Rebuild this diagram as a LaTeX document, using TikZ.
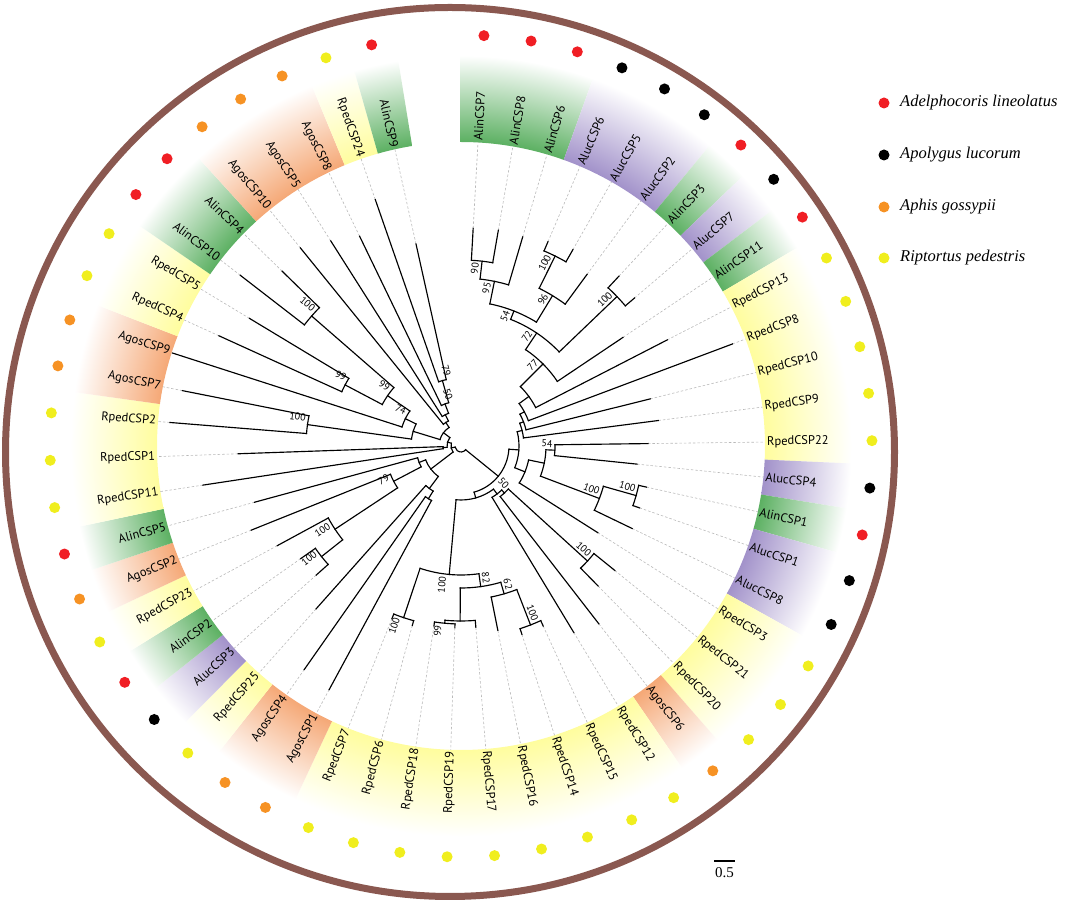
\documentclass[tikz,border=0pt]{standalone}
\usepackage{fontspec}
\setmainfont{Liberation Serif}
\newfontfamily\labfont{PT Sans}
\definecolor{cGreen}{RGB}{92,176,98}
\definecolor{cPurple}{RGB}{162,146,202}
\definecolor{cOrange}{RGB}{245,168,118}
\definecolor{cYellow}{RGB}{255,253,158}
\definecolor{dRed}{RGB}{240,30,36}
\definecolor{dBlack}{RGB}{0,0,0}
\definecolor{dOrange}{RGB}{246,146,36}
\definecolor{dYellow}{RGB}{240,238,30}
\definecolor{ringBrown}{RGB}{138,88,80}
\pgfdeclareradialshading{shGreen}{\pgfpointorigin}{color(0bp)=(cGreen); color(19bp)=(cGreen); color(24.4bp)=(white); color(50bp)=(white)}
\pgfdeclareradialshading{shPurple}{\pgfpointorigin}{color(0bp)=(cPurple); color(19bp)=(cPurple); color(24.4bp)=(white); color(50bp)=(white)}
\pgfdeclareradialshading{shOrange}{\pgfpointorigin}{color(0bp)=(cOrange); color(19bp)=(cOrange); color(24.4bp)=(white); color(50bp)=(white)}
\pgfdeclareradialshading{shYellow}{\pgfpointorigin}{color(0bp)=(cYellow); color(19bp)=(cYellow); color(24.4bp)=(white); color(50bp)=(white)}
\tikzset{
  br/.style={line width=1.15pt, black, line cap=rect},
  dotln/.style={gray!55, line width=0.6pt, dash pattern=on 2.5pt off 2pt},
  leaflab/.style={font=\labfont\fontsize{12.5}{14}\selectfont, inner sep=0pt},
  bslab/.style={font=\labfont\fontsize{10}{11}\selectfont, inner sep=2.5pt, anchor=south east},
  dotn/.style={circle, minimum size=11pt, inner sep=0pt},
  legtext/.style={font=\fontsize{16.5}{19}\selectfont\itshape, anchor=west, inner sep=0pt},
}
\newcommand\tnode[6]{%
  \coordinate (#1) at (#2:#3);
  \coordinate (#1b) at (#2:#4);
  \draw[br] (#1b) -- (#1);
  \draw[br] (#5:#3) arc[start angle=#5, end angle=#6, radius=#3];}
\newcommand\bsR[3]{\node[bslab, rotate=#2] at (#1) {#3};}
\newcommand\bsL[3]{\node[bslab, rotate=#2+180] at (#1) {#3};}
\newcommand\drawband[3]{%
  \pgfmathsetmacro\bandA{86.8-6.62*#1+3.31}
  \pgfmathsetmacro\bandB{86.8-6.62*#2-3.31}
  \begin{scope}
    \clip (\bandA:304) arc[start angle=\bandA, end angle=\bandB, radius=304] -- (\bandB:402) arc[start angle=\bandB, end angle=\bandA, radius=402] -- cycle;
    \shade[shading=#3] (0,0) circle (400);
  \end{scope}}
\begin{document}
\begin{tikzpicture}[x=1pt,y=1pt]
\useasboundingbox (0,0) rectangle (1065,904);
\draw[ringBrown, line width=7pt] (450,452) circle (444.5);
\begin{scope}[shift={(461,458)}]
% colour bands
\drawband{0}{2}{shGreen}
\drawband{3}{5}{shPurple}
\drawband{6}{6}{shGreen}
\drawband{7}{7}{shPurple}
\drawband{8}{8}{shGreen}
\drawband{9}{13}{shYellow}
\drawband{14}{14}{shPurple}
\drawband{15}{15}{shGreen}
\drawband{16}{17}{shPurple}
\drawband{18}{20}{shYellow}
\drawband{21}{21}{shOrange}
\drawband{22}{30}{shYellow}
\drawband{31}{32}{shOrange}
\drawband{33}{33}{shYellow}
\drawband{34}{34}{shPurple}
\drawband{35}{35}{shGreen}
\drawband{36}{36}{shYellow}
\drawband{37}{37}{shOrange}
\drawband{38}{38}{shGreen}
\drawband{39}{41}{shYellow}
\drawband{42}{43}{shOrange}
\drawband{44}{45}{shYellow}
\drawband{46}{47}{shGreen}
\drawband{48}{50}{shOrange}
\drawband{51}{51}{shYellow}
\drawband{52}{52}{shGreen}
% leaves
\foreach \i/\nm/\dc/\tip/\pr in {0/AlinCSP7/dRed/218/186, 1/AlinCSP8/dRed/219/186, 2/AlinCSP6/dRed/218/168, 3/AlucCSP6/dBlack/222/212, 4/AlucCSP5/dBlack/226/212, 5/AlucCSP2/dBlack/213/176, 6/AlinCSP3/dRed/232/216, 7/AlucCSP7/dBlack/228/216, 8/AlinCSP11/dRed/195/116, 9/RpedCSP13/dYellow/232/84, 10/RpedCSP8/dYellow/290/72, 11/RpedCSP10/dYellow/195/67, 12/RpedCSP9/dYellow/199/63, 13/RpedCSP22/dYellow/187/94, 14/AlucCSP4/dBlack/177/94, 15/AlinCSP1/dRed/190/182, 16/AlucCSP1/dBlack/189/182, 17/AlucCSP8/dBlack/190/148, 18/RpedCSP3/dYellow/162/69, 19/RpedCSP21/dYellow/198/171, 20/RpedCSP20/dYellow/196/171, 21/AgosCSP6/dOrange/225/64, 22/RpedCSP12/dYellow/218/60, 23/RpedCSP15/dYellow/198/192, 24/RpedCSP14/dYellow/198/192, 25/RpedCSP16/dYellow/188/154, 26/RpedCSP17/dYellow/182/175, 27/RpedCSP19/dYellow/182/178, 28/RpedCSP18/dYellow/182/178, 29/RpedCSP6/dYellow/186/181, 30/RpedCSP7/dYellow/186/181, 31/AgosCSP1/dOrange/277/62, 32/AgosCSP4/dOrange/273/62, 33/RpedCSP25/dYellow/218/53, 34/AlucCSP3/dBlack/194/178, 35/AlinCSP2/dRed/196/178, 36/RpedCSP23/dYellow/209/151, 37/AgosCSP2/dOrange/226/76, 38/AlinCSP5/dRed/214/45, 39/RpedCSP11/dYellow/261/18, 40/RpedCSP1/dYellow/223/18, 41/RpedCSP2/dYellow/292/155, 42/AgosCSP7/dOrange/284/155, 43/AgosCSP9/dOrange/303/62, 44/RpedCSP4/dYellow/266/131, 45/RpedCSP5/dYellow/247/131, 46/AlinCSP10/dRed/279/198, 47/AlinCSP4/dRed/250/198, 48/AgosCSP10/dOrange/255/28, 49/AgosCSP5/dOrange/243/35, 50/AgosCSP8/dOrange/233/45, 51/RpedCSP24/dYellow/261/68, 52/AlinCSP9/dRed/207/68}{
  \pgfmathsetmacro\ang{86.8-6.62*\i}
  \pgfmathtruncatemacro\side{\ang>-90 ? 1 : 0}
  \coordinate (b\i) at (\ang:\pr);
  \coordinate (t\i) at (\ang:\tip);
  \coordinate (e\i) at (\ang:304);
  \draw[dotln] (t\i) -- (e\i);
  \draw[br] (b\i) -- (t\i);
  \ifnum\side=1
    \node[leaflab, rotate=\ang, anchor=west] (L\i) at (\ang:306) {\nm};
  \else
    \node[leaflab, rotate=\ang+180, anchor=east] (L\i) at (\ang:306) {\nm};
  \fi
  \node[dotn, fill=\dc] (D\i) at (\ang:411) {};
}
% internal nodes: name, angle, radius, parent radius, arc from, arc to
\tnode{n01}{83.49}{186}{168}{86.80}{80.18}
\tnode{n012}{78.525}{168}{145}{83.49}{73.56}
\tnode{n34}{63.63}{212}{176}{66.94}{60.32}
\tnode{n345}{58.665}{176}{145}{63.63}{53.70}
\tnode{n05}{68.595}{145}{136}{78.525}{58.665}
\tnode{n67}{43.77}{216}{136}{47.08}{40.46}
\tnode{n07}{56.18}{136}{116}{68.595}{43.77}
\tnode{n08}{45.01}{116}{84}{56.18}{33.84}
\tnode{nR1}{36.115}{84}{72}{45.01}{27.22}
\tnode{nR2}{28.36}{72}{67}{36.115}{20.60}
\tnode{nR3}{21.17}{67}{63}{28.36}{13.98}
\tnode{nR4}{14.265}{63}{58}{21.17}{7.36}
\tnode{n1314}{-2.57}{94}{85}{0.74}{-5.88}
\tnode{nB}{-15.81}{182}{148}{-12.50}{-19.12}
\tnode{nA}{-20.775}{148}{85}{-15.81}{-25.74}
\tnode{nC}{-11.6725}{85}{69}{-2.57}{-20.775}
\tnode{nD}{-22.016}{69}{58}{-11.6725}{-32.36}
\tnode{nR5}{-3.876}{58}{48}{14.265}{-22.016}
\tnode{n1920}{-42.29}{171}{64}{-38.98}{-45.60}
\tnode{nE}{-47.255}{64}{60}{-42.29}{-52.22}
\tnode{nF}{-53.05}{60}{54}{-47.255}{-58.84}
\tnode{n2324}{-68.77}{192}{154}{-65.46}{-72.08}
\tnode{n62}{-73.735}{154}{142}{-68.77}{-78.70}
\tnode{n2728}{-95.25}{178}{175}{-91.94}{-98.56}
\tnode{nX}{-90.285}{175}{142}{-85.32}{-95.25}
\tnode{n82}{-82.01}{142}{129}{-73.735}{-90.285}
\tnode{n2930}{-108.49}{181}{129}{-105.18}{-111.80}
\tnode{n128}{-95.25}{129}{54}{-82.01}{-108.49}
\tnode{nH}{-74.15}{54}{48}{-53.05}{-95.25}
\tnode{nG}{-39.013}{48}{6}{-3.876}{-74.15}
\tnode{n3132}{-121.73}{62}{53}{-118.42}{-125.04}
\tnode{n3133}{-126.695}{53}{38}{-121.73}{-131.66}
\tnode{n3435}{-141.59}{178}{151}{-138.28}{-144.90}
\tnode{n100a}{-146.555}{151}{76}{-141.59}{-151.52}
\tnode{n79}{-152.35}{76}{45}{-146.555}{-158.14}
\tnode{nL1}{-158.555}{45}{38}{-152.35}{-164.76}
\tnode{nL2}{-142.625}{38}{10}{-126.695}{-158.555}
\tnode{nL8}{-174.69}{18}{14}{-171.38}{-178.00}
\tnode{n4142}{-187.93}{155}{50}{-184.62}{-191.24}
\tnode{n4445}{-207.79}{131}{89}{-204.48}{-211.10}
\tnode{n4647}{-221.03}{198}{89}{-217.72}{-224.34}
\tnode{n99b}{-214.41}{89}{62}{-207.79}{-221.03}
\tnode{n74}{-206.135}{62}{50}{-197.86}{-214.41}
\tnode{nL3}{-197.03}{50}{22}{-187.93}{-206.135}
\tnode{n5152}{-254.13}{68}{45}{-250.82}{-257.44}
\tnode{nL4}{-249.165}{45}{35}{-244.20}{-254.13}
\tnode{nL5}{-243.37}{35}{28}{-237.58}{-249.165}
\tnode{nL6}{-237.165}{28}{22}{-230.96}{-243.37}
\tnode{nL7}{-217.1}{22}{14}{-197.03}{-237.165}
\tnode{nL9}{-195.9}{14}{10}{-174.69}{-217.1}
\tnode{nL10}{-169.26}{10}{6}{-142.625}{-195.9}
\coordinate (root) at (-104.1:6);
\draw[br] (nGb) arc[start angle=-39.013, end angle=-169.26, radius=6];
% bootstrap values
\bsR{n01}{83.49}{90}
\bsR{n012}{78.525}{95}
\bsR{n34}{63.63}{100}
\bsR{n345}{58.665}{96}
\bsR{n05}{68.595}{54}
\bsR{n67}{43.77}{100}
\bsR{n07}{56.18}{72}
\bsR{n08}{45.01}{77}
\bsR{n1314}{-2.57}{54}
\bsR{nB}{-15.81}{100}
\bsR{nA}{-20.775}{100}
\bsR{nE}{-47.255}{50}
\bsR{n1920}{-42.29}{100}
\bsR{n2324}{-68.77}{100}
\bsR{n62}{-73.735}{62}
\bsR{n82}{-82.01}{82}
\bsL{n2728}{-95.25}{99}
\bsL{n2930}{-108.49}{100}
\bsL{n128}{-95.25}{100}
\bsL{n3435}{-141.59}{100}
\bsL{n100a}{-146.555}{100}
\bsL{n79}{-152.35}{79}
\bsL{n4142}{-187.93}{100}
\bsL{n74}{-206.135}{74}
\bsL{n4445}{-207.79}{99}
\bsL{n99b}{-214.41}{99}
\bsL{n4647}{-221.03}{100}
\bsL{n5152}{-254.13}{79}
\bsL{nL4}{-249.165}{50}
\end{scope}
% legend
\node[dotn, fill=dRed] (g1) at (884,801) {};
\node[legtext] (g1t) at (900,801) {Adelphocoris lineolatus};
\node[dotn, fill=dBlack] (g2) at (884,749) {};
\node[legtext] (g2t) at (900,749) {Apolygus lucorum};
\node[dotn, fill=dOrange] (g3) at (884,697) {};
\node[legtext] (g3t) at (900,697) {Aphis gossypii};
\node[dotn, fill=dYellow] (g4) at (884,646) {};
\node[legtext] (g4t) at (900,646) {Riptortus pedestris};
% scale bar
\coordinate (sb1) at (714,43);
\coordinate (sb2) at (735,43);
\draw[line width=1.2pt] (sb1) -- (sb2);
\node[font=\fontsize{15}{17}\selectfont, inner sep=0pt] (sbl) at (724.5,31) {0.5};
\end{tikzpicture}
\end{document}
